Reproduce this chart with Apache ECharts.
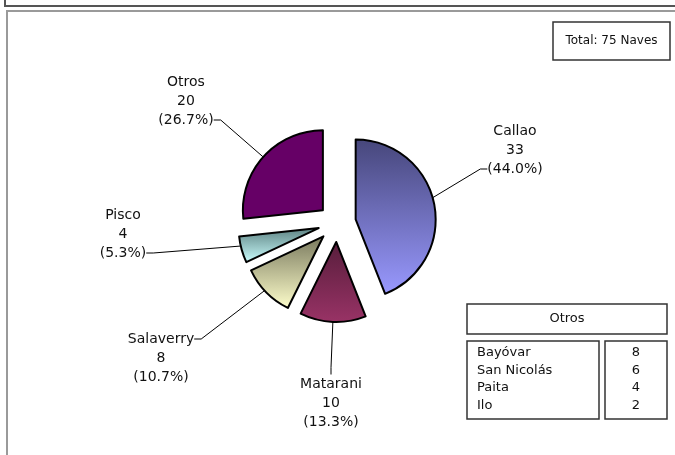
<!DOCTYPE html>
<html>
<head>
<meta charset="utf-8">
<script src="https://cdn.jsdelivr.net/npm/echarts@6/dist/echarts.min.js"></script>
<style>
  html, body { margin: 0; padding: 0; background: #fff; }
  #chart { width: 675px; height: 455px; }
</style>
</head>
<body>
<div id="chart"></div>
<script>
// datos
const ports = ['Callao', 'Matarani', 'Salaverry', 'Pisco', 'Otros'];
const naves = [33, 10, 8, 4, 20];
const otrosPorts = ['Bayóvar', 'San Nicolás', 'Paita', 'Ilo'];
const otrosNaves = [8, 6, 4, 2];

const total = naves.reduce((a, b) => a + b, 0);
const FONT = 'DejaVu Sans';

// gradient top -> bottom for each slice
const fills = [
  ['#46467a', '#9999ff'],
  ['#571d3b', '#993366'],
  ['#77775c', '#ffffcc'],
  ['#5b8080', '#ccffff'],
  ['#660066', '#660066']
];

// label spot: centre x, y of the text line the leader meets, which line it meets
const labelSpots = [
  { x: 515, y: 169, hook: 'bottom' },
  { x: 331, y: 403, hook: 'middle' },
  { x: 161, y: 339, hook: 'top' },
  { x: 123, y: 253, hook: 'bottom' },
  { x: 186, y: 120, hook: 'bottom' }
];

let chart = echarts.init(document.getElementById('chart'));

function grad(c) {
  return new echarts.graphic.LinearGradient(0, 0, 0, 1, [
    { offset: 0, color: c[0] },
    { offset: 1, color: c[1] }
  ]);
}

function labelText(p) {
  let txt = p.name + '\n' + p.value + '\n(' + (p.value / total * 100).toFixed(1) + '%)';
  let hook = labelSpots[p.dataIndex].hook;
  // blank lines so the line the leader meets sits in the middle of the block
  if (hook == 'bottom') txt = txt + '\n \n ';
  if (hook == 'top') txt = ' \n \n' + txt;
  return txt;
}

let tableEls = [
  // frames
  { type: 'rect', shape: { x: 5, y: -20, width: 700, height: 26 }, style: { fill: 'none', stroke: '#555', lineWidth: 2 } },
  { type: 'rect', shape: { x: 7, y: 11, width: 700, height: 500 }, style: { fill: 'none', stroke: '#9a9a9a', lineWidth: 2 } },
  // total box
  { type: 'rect', shape: { x: 553, y: 22, width: 117, height: 38 }, style: { fill: '#fff', stroke: '#333', lineWidth: 1.5 } },
  { type: 'text', x: 611.5, y: 41, style: { text: 'Total: ' + total + ' Naves', font: '12px "' + FONT + '"', fill: '#111', align: 'center', verticalAlign: 'middle' } },
  // tabla "Otros"
  { type: 'rect', shape: { x: 467, y: 304, width: 200, height: 30 }, style: { fill: '#fff', stroke: '#333', lineWidth: 1.5 } },
  { type: 'text', x: 567, y: 319, style: { text: 'Otros', font: '13px "' + FONT + '"', fill: '#111', align: 'center', verticalAlign: 'middle' } },
  { type: 'rect', shape: { x: 467, y: 341, width: 132, height: 78 }, style: { fill: '#fff', stroke: '#333', lineWidth: 1.5 } },
  { type: 'rect', shape: { x: 605, y: 341, width: 62, height: 78 }, style: { fill: '#fff', stroke: '#333', lineWidth: 1.5 } }
];
otrosPorts.forEach((p, i) => {
  tableEls.push({ type: 'text', x: 477, y: 353 + i * 17.5, style: { text: p, font: '13px "' + FONT + '"', fill: '#111', align: 'left', verticalAlign: 'middle' } });
  tableEls.push({ type: 'text', x: 636, y: 353 + i * 17.5, style: { text: String(otrosNaves[i]), font: '13px "' + FONT + '"', fill: '#111', align: 'center', verticalAlign: 'middle' } });
});

let pieBase = {
  type: 'pie',
  center: [337, 223],
  radius: 80,
  startAngle: 90,
  clockwise: true,
  avoidLabelOverlap: false,
  emphasis: { disabled: true }
};

let option = {
  animation: false,
  graphic: { elements: tableEls },
  series: [
    // labels + leader lines (unexploded, invisible sectors, drawn below the slices)
    Object.assign({}, pieBase, {
      z: 1,
      silent: true,
      itemStyle: { color: 'rgba(0,0,0,0)', borderWidth: 0 },
      label: {
        show: true,
        position: 'outside',
        formatter: labelText,
        fontFamily: FONT,
        fontSize: 14,
        lineHeight: 19,
        color: '#111'
      },
      labelLine: { show: true, length: 10, length2: 7, lineStyle: { color: '#000', width: 1 } },
      labelLayout: function (p) {
        let s = labelSpots[p.dataIndex];
        return { x: s.x, y: s.y, align: 'center', verticalAlign: 'middle' };
      },
      data: ports.map((n, i) => ({ name: n, value: naves[i] }))
    }),
    // exploded slices
    Object.assign({}, pieBase, {
      z: 2,
      selectedMode: 'multiple',
      selectedOffset: 19,
      itemStyle: { borderColor: '#000', borderWidth: 2 },
      select: { itemStyle: { borderColor: '#000', borderWidth: 2 } },
      label: { show: false },
      labelLine: { show: false },
      data: ports.map((n, i) => ({
        name: n,
        value: naves[i],
        selected: true,
        itemStyle: { color: grad(fills[i]) }
      }))
    })
  ]
};

chart.setOption(option);
</script>
</body>
</html>
